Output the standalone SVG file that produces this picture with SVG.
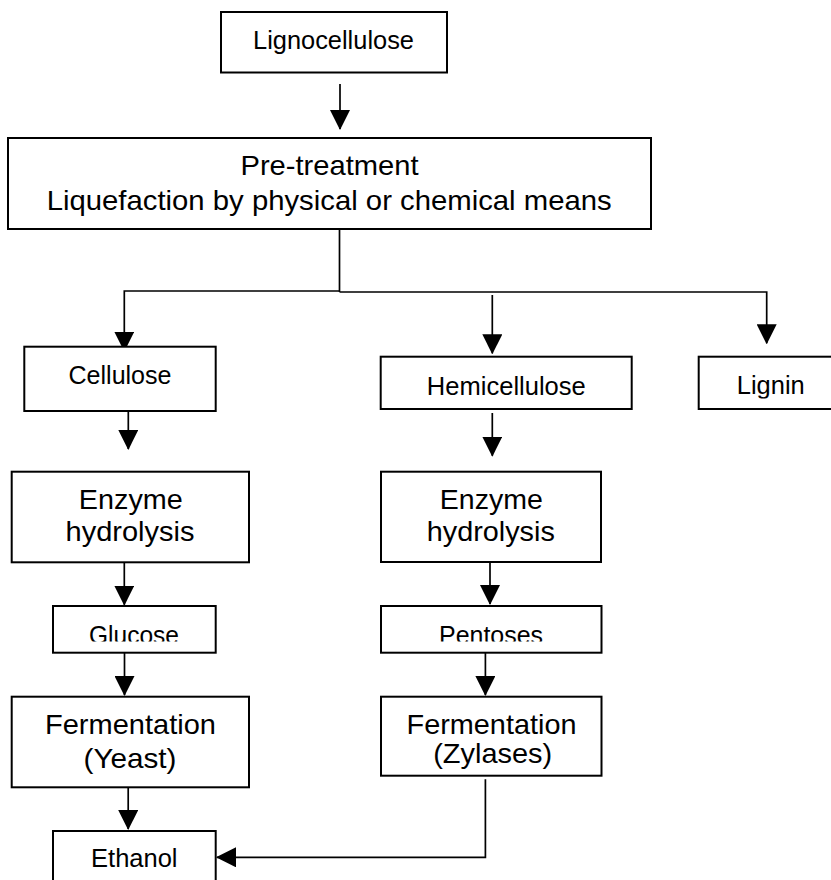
<svg xmlns="http://www.w3.org/2000/svg" width="831" height="880" viewBox="0 0 831 880">
<style>
.box{fill:#fff;stroke:#000;stroke-width:2}
.t{font-family:"Liberation Sans",Arial,sans-serif;fill:#000;text-anchor:middle}
.s{font-size:25px}
.b{font-size:28px}
.ln{fill:none;stroke:#000;stroke-width:1.7}
.ar{marker-end:url(#ah)}
</style>
<defs>
<marker id="ah" markerUnits="userSpaceOnUse" markerWidth="20" markerHeight="20" refX="19" refY="10" orient="auto" viewBox="0 0 20 20">
<path d="M0,0 L20,10 L0,20 Z" fill="#000"/>
</marker>
<clipPath id="cg"><rect x="0" y="600" width="831" height="41.5"/></clipPath>
<clipPath id="cl"><rect x="0" y="350" width="831" height="48.5"/></clipPath>
</defs>
<rect width="831" height="880" fill="#fff"/>
<g id="connectors">
<line class="ln ar" x1="340" y1="84" x2="340" y2="129"/>
<line class="ln" x1="339.5" y1="229" x2="339.5" y2="292"/>
<polyline class="ln ar" points="339.5,291 124.3,291 124.3,350.7"/>
<polyline class="ln ar" points="339.5,292 766.7,292 766.7,343.3"/>
<line class="ln ar" x1="492.3" y1="295" x2="492.3" y2="353.3"/>
<line class="ln ar" x1="128.3" y1="406" x2="128.3" y2="449"/>
<line class="ln ar" x1="492.3" y1="413" x2="492.3" y2="455.7"/>
<line class="ln ar" x1="124.3" y1="562" x2="124.3" y2="604.7"/>
<line class="ln ar" x1="490" y1="562" x2="490" y2="604"/>
<line class="ln ar" x1="124.5" y1="652.7" x2="124.5" y2="695"/>
<line class="ln ar" x1="485.4" y1="652.7" x2="485.4" y2="695"/>
<line class="ln ar" x1="128.2" y1="787" x2="128.2" y2="829"/>
<polyline class="ln ar" points="485.4,779.3 485.4,857.3 217,857.3"/>
</g>
<g id="lignocellulose">
<rect class="box" x="221" y="12" width="226" height="60.5"/>
<text class="t s" x="333.5" y="49" textLength="161" lengthAdjust="spacingAndGlyphs">Lignocellulose</text>
</g>
<g id="pretreatment">
<rect class="box" x="8" y="138" width="643" height="91"/>
<text class="t b" x="329.5" y="175" textLength="178" lengthAdjust="spacingAndGlyphs">Pre-treatment</text>
<text class="t b" x="329.2" y="210" textLength="565" lengthAdjust="spacingAndGlyphs">Liquefaction by physical or chemical means</text>
</g>
<g id="cellulose">
<rect class="box" x="24.3" y="346.7" width="191.4" height="64.3"/>
<text class="t s" x="120" y="384.3" textLength="103" lengthAdjust="spacingAndGlyphs">Cellulose</text>
</g>
<g id="hemicellulose">
<rect class="box" x="380.7" y="356.7" width="251" height="52.3"/>
<text class="t s" x="506.3" y="395" textLength="159" lengthAdjust="spacingAndGlyphs">Hemicellulose</text>
</g>
<g id="lignin">
<rect class="box" x="698.7" y="356.7" width="140" height="52.3"/>
<text class="t s" x="770.8" y="394" textLength="68" lengthAdjust="spacingAndGlyphs" clip-path="url(#cl)">Lignin</text>
</g>
<g id="enzyme-hydrolysis-1">
<rect class="box" x="11.7" y="471.7" width="237.3" height="90.6"/>
<text class="t b" x="130.8" y="509" textLength="104" lengthAdjust="spacingAndGlyphs">Enzyme</text>
<text class="t b" x="130" y="541" textLength="129" lengthAdjust="spacingAndGlyphs">hydrolysis</text>
</g>
<g id="enzyme-hydrolysis-2">
<rect class="box" x="381" y="471.7" width="220" height="90.3"/>
<text class="t b" x="491.3" y="509" textLength="103" lengthAdjust="spacingAndGlyphs">Enzyme</text>
<text class="t b" x="490.8" y="541" textLength="128" lengthAdjust="spacingAndGlyphs">hydrolysis</text>
</g>
<g id="glucose">
<rect class="box" x="53" y="606" width="162.7" height="46.7"/>
<text class="t s" x="134" y="643.5" textLength="90" lengthAdjust="spacingAndGlyphs" clip-path="url(#cg)">Glucose</text>
</g>
<g id="pentoses">
<rect class="box" x="381" y="606" width="220.5" height="46.7"/>
<text class="t s" x="491" y="644" textLength="104" lengthAdjust="spacingAndGlyphs" clip-path="url(#cg)">Pentoses</text>
</g>
<g id="fermentation-yeast">
<rect class="box" x="11.7" y="696.7" width="237.3" height="90.6"/>
<text class="t b" x="130.5" y="734.3" textLength="171" lengthAdjust="spacingAndGlyphs">Fermentation</text>
<text class="t b" x="130" y="768" textLength="93" lengthAdjust="spacingAndGlyphs">(Yeast)</text>
</g>
<g id="fermentation-zylases">
<rect class="box" x="381" y="696.7" width="220.5" height="79"/>
<text class="t b" x="491.5" y="734.3" textLength="170" lengthAdjust="spacingAndGlyphs">Fermentation</text>
<text class="t b" x="492.7" y="763.3" textLength="119" lengthAdjust="spacingAndGlyphs">(Zylases)</text>
</g>
<g id="ethanol">
<rect class="box" x="53" y="831" width="162.7" height="60"/>
<text class="t s" x="134.3" y="867.3" textLength="86.5" lengthAdjust="spacingAndGlyphs">Ethanol</text>
</g>
</svg>
